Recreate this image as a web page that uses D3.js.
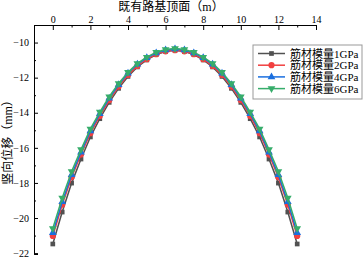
<!DOCTYPE html>
<html>
<head>
<meta charset="utf-8">
<script src="https://cdn.jsdelivr.net/npm/d3@7"></script>
<style>
  body { margin: 0; background: #fff; }
  text { font-family: "Liberation Serif", "Times New Roman", "Noto Sans CJK SC", serif; }
</style>
</head>
<body>
<div id="chart-area"></div>
<script>
// datos
var posiciones = [0, 0.5, 1, 1.5, 2, 2.5, 3, 3.5, 4, 4.5, 5, 5.5, 6, 6.5,
                  7, 7.5, 8, 8.5, 9, 9.5, 10, 10.5, 11, 11.5, 12, 12.5, 13];
var nombres = ["筋材模量1GPa", "筋材模量2GPa", "筋材模量4GPa", "筋材模量6GPa"];
var modulo1 = [-21.48, -19.66, -18.01, -16.64, -15.38, -14.34, -13.41, -12.61, -11.93, -11.39, -10.99, -10.68, -10.51, -10.44,
               -10.51, -10.68, -10.99, -11.39, -11.93, -12.61, -13.41, -14.34, -15.38, -16.64, -18.01, -19.66, -21.48];
var modulo2 = [-21.02, -19.24, -17.67, -16.38, -15.17, -14.18, -13.29, -12.51, -11.85, -11.33, -10.95, -10.66, -10.50, -10.44,
               -10.50, -10.66, -10.95, -11.33, -11.85, -12.51, -13.29, -14.18, -15.17, -16.38, -17.67, -19.24, -21.02];
var modulo4 = [-20.84, -19.08, -17.53, -16.25, -15.04, -14.06, -13.18, -12.41, -11.75, -11.24, -10.87, -10.59, -10.43, -10.37,
               -10.43, -10.59, -10.87, -11.24, -11.75, -12.41, -13.18, -14.06, -15.04, -16.25, -17.53, -19.08, -20.84];
var modulo6 = [-20.60, -18.86, -17.35, -16.10, -14.92, -13.96, -13.09, -12.33, -11.69, -11.19, -10.83, -10.55, -10.40, -10.34,
               -10.40, -10.55, -10.83, -11.19, -11.69, -12.33, -13.09, -13.96, -14.92, -16.10, -17.35, -18.86, -20.60];
var ticksX = [0, 2, 4, 6, 8, 10, 12, 14];
var ticksY = [-22, -20, -18, -16, -14, -12, -10];

var series = [modulo1, modulo2, modulo4, modulo6];
var colores = ["#515151", "#F14040", "#1A6FDF", "#37AD6B"];
var simbolos = [d3.symbolSquare, d3.symbolCircle, d3.symbolTriangle, d3.symbolTriangle];
var tamanos = [22, 30, 26, 26];
var rotar = [0, 0, 0, 180];

var margin = {top: 25, right: 48, bottom: 4, left: 34};
var width = 364 - margin.left - margin.right;
var height = 258 - margin.top - margin.bottom;

var xScale = d3.scaleLinear().domain([-1, 14]).range([0, width]);
var yScale = d3.scaleLinear().domain([-22.05, -9]).range([height, 0]);

var svg = d3.select("#chart-area")
    .append("svg")
    .attr("width", 364)
    .attr("height", 258);

var g = svg.append("g")
    .attr("transform", "translate(" + margin.left + "," + margin.top + ")");

// ejes (ticks hacia dentro)
var topAxis = d3.axisTop(xScale).tickValues(ticksX).tickSize(-5).tickPadding(2.5).tickFormat(d3.format("d"));
var topMinor = d3.axisTop(xScale).tickValues(d3.range(-1, 14, 2)).tickSize(-2.5).tickFormat("");
var leftAxis = d3.axisLeft(yScale).tickValues(ticksY).tickSize(-4).tickPadding(5).tickFormat(d3.format("d"));
var leftMinor = d3.axisLeft(yScale).tickValues(d3.range(-21, -8, 2)).tickSize(-2).tickFormat("");

[topAxis, topMinor, leftAxis, leftMinor].forEach(function(ax) {
    var a = g.append("g").attr("class", "axis").call(ax);
    a.select(".domain").attr("stroke", "#000").attr("stroke-width", 1);
    a.selectAll("line").attr("stroke", "#000");
    a.selectAll("text").attr("font-size", 10).attr("fill", "#000");
});

// lineas
var linea = d3.line()
    .x(function(d) { return xScale(d[0]); })
    .y(function(d) { return yScale(d[1]); });

series.forEach(function(s, i) {
    var datos = posiciones.map(function(p, j) { return [p, s[j]]; });
    g.append("path")
        .datum(datos)
        .attr("fill", "none")
        .attr("stroke", colores[i])
        .attr("stroke-width", 1.5)
        .attr("d", linea);
    g.selectAll(".m" + i)
        .data(datos)
        .enter()
        .append("path")
        .attr("class", "m" + i)
        .attr("d", d3.symbol().type(simbolos[i]).size(tamanos[i]))
        .attr("fill", colores[i])
        .attr("transform", function(d) {
            return "translate(" + xScale(d[0]) + "," + yScale(d[1]) + ") rotate(" + rotar[i] + ")";
        });
});

// titulos
svg.append("text")
    .text("既有路基顶面（m）")
    .attr("x", 171)
    .attr("y", 11)
    .attr("text-anchor", "middle")
    .attr("font-size", 12);

svg.append("text")
    .text("竖向位移（mm）")
    .attr("transform", "rotate(-90)")
    .attr("x", -(margin.top + height / 2))
    .attr("y", 12)
    .attr("text-anchor", "middle")
    .attr("font-size", 12);

// leyenda
var ley = svg.append("g").attr("transform", "translate(253,45)");
ley.append("rect")
    .attr("width", 109)
    .attr("height", 54)
    .attr("fill", "#fff")
    .attr("stroke", "#999")
    .attr("stroke-width", 1);

nombres.forEach(function(n, i) {
    var yy = 8.5 + i * 11.7;
    ley.append("line")
        .attr("x1", 5).attr("x2", 32)
        .attr("y1", yy).attr("y2", yy)
        .attr("stroke", colores[i])
        .attr("stroke-width", 1.5);
    ley.append("path")
        .attr("d", d3.symbol().type(simbolos[i]).size(tamanos[i]))
        .attr("fill", colores[i])
        .attr("transform", "translate(18.5," + yy + ") rotate(" + rotar[i] + ")");
    ley.append("text")
        .text(n)
        .attr("x", 37)
        .attr("y", yy + 4)
        .attr("font-size", 11);
});
</script>
</body>
</html>
